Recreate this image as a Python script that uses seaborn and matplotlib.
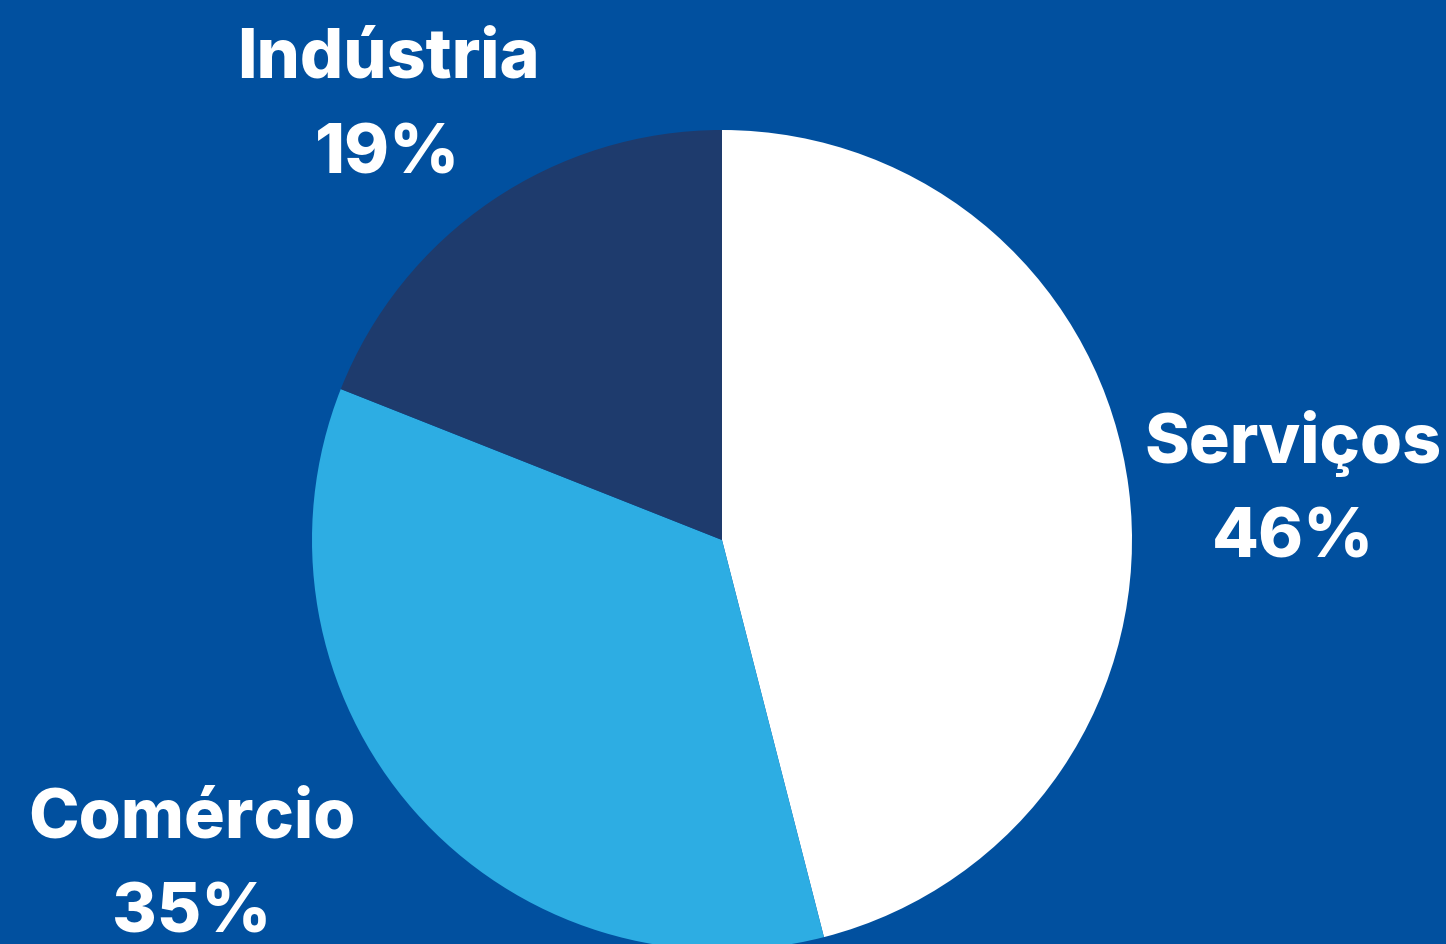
import matplotlib
matplotlib.use("Agg")
import matplotlib.pyplot as plt
import seaborn as sns

# dados
setores = ["Serviços", "Comércio", "Indústria"]
participacao = [46, 35, 19]
cores = ["#FFFFFF", "#2DADE3", "#1E3B6D"]
fundo = "#01509F"

# posição dos rótulos (px, origem no topo): x, base da linha 1, base da linha 2
rotulos_pos = [(1293, 463, 558), (192, 838, 933), (388, 78, 174)]

sns.set_theme(style="white")
plt.rcParams["font.family"] = ["Inter", "DejaVu Sans"]

W, H = 1446, 945
fig = plt.figure(figsize=(W / 100, H / 100), dpi=100, facecolor=fundo)
ax = fig.add_axes([0, 0, 1, 1])
ax.set_facecolor(fundo)

ax.pie(participacao, colors=cores, startangle=90, counterclock=False,
       center=(722, H - 541), radius=410, frame=False,
       wedgeprops=dict(linewidth=0))

for nome, valor, (x, y1, y2) in zip(setores, participacao, rotulos_pos):
    ax.text(x, H - y1, nome, ha="center", va="baseline", color="white",
            fontsize=49, fontweight="heavy")
    ax.text(x, H - y2, f"{valor}%", ha="center", va="baseline", color="white",
            fontsize=49, fontweight="heavy")

ax.set_xlim(0, W)
ax.set_ylim(0, H)
ax.set_aspect("equal")
ax.axis("off")

fig.savefig("out.png", dpi=100, facecolor=fundo)
